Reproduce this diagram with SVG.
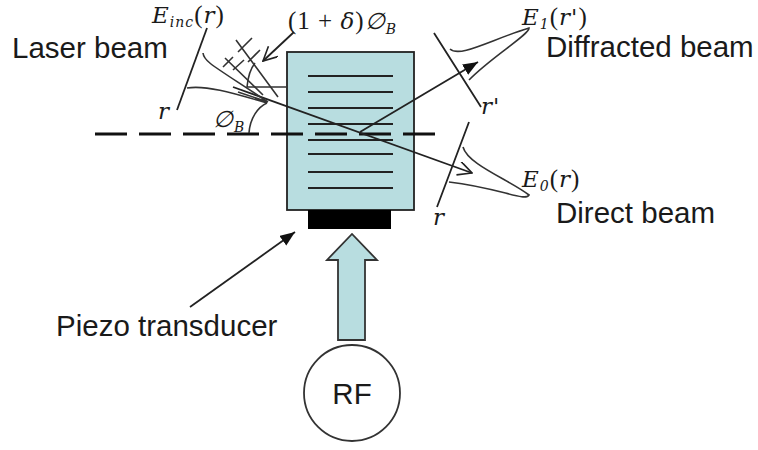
<svg xmlns="http://www.w3.org/2000/svg" width="758" height="450" viewBox="0 0 758 450">
<defs>
<marker id="tip" markerUnits="userSpaceOnUse" markerWidth="16" markerHeight="14" refX="15" refY="6" orient="auto"><path d="M0 0L15 6L0 12Z" fill="#111"/></marker>
<marker id="open" markerUnits="userSpaceOnUse" markerWidth="16" markerHeight="16" refX="15" refY="7" orient="auto"><path d="M1 0L15 7L1 14" fill="none" stroke="#222" stroke-width="1.6"/></marker>
</defs>
<style>
.l{fill:none;stroke:#222;stroke-width:1.8}
.g{fill:none;stroke:#333;stroke-width:1.6}
.t{font-family:"Liberation Sans",Arial,sans-serif;font-size:29.5px;fill:#1a1a1a}
.m{font-family:"DejaVu Serif","Liberation Serif",serif;font-style:italic;font-size:23px;letter-spacing:1px;fill:#1a1a1a}
.u{font-family:"Liberation Serif",serif;font-style:normal;font-size:25px}
.s{font-size:14px}
</style>
<rect width="758" height="450" fill="#fff"/>
<g id="cell">
<rect x="287" y="52" width="127" height="158" fill="#b8dde0" stroke="#222" stroke-width="1.8"/>
<path class="l" d="M308 76H393M308 92H393M308 108H393M308 124H393M308 140H393M308 154H393M308 172H393M308 188H393"/>
</g>
<g id="transducer"><rect x="308" y="210" width="83" height="19" fill="#000"/></g>
<g id="rf"><circle cx="352" cy="393" r="48" fill="#fff" stroke="#333" stroke-width="1.8"/><text class="t" x="352" y="404" text-anchor="middle">RF</text></g>
<g id="rf-arrow"><path d="M338 340V260H327L352 234L377 260H365V340Z" fill="#b8dde0" stroke="#333" stroke-width="1.8"/></g>
<g id="connectors">
<path d="M95 134H435" fill="none" stroke="#111" stroke-width="3.2" stroke-dasharray="32 12"/>
<path class="l" d="M233 87L472 173" marker-end="url(#open)"/>
<path class="l" d="M360 132L478 62" marker-end="url(#tip)"/>
<path class="l" d="M190 307L295 232" marker-end="url(#tip)"/>
<path class="l" d="M294 32L263 61" marker-end="url(#open)"/>
<path class="l" d="M207 28L177 110"/>
<path class="g" d="M203 53C204 62 214 66 268 102M187 88C205 85 230 92 267 103M238 92L268 102"/>
<path class="g" d="M247 87H287M247 87C248 76 251 68 255 63M249 133C250 118 258 107 267 103"/>
<path class="g" d="M236 40L278 97M225 58L263 95M252 38L238 52M260 50L248 62M233 57L223 67M244 60L233 70"/>
<path class="l" d="M434 33L481 107M469 122L437 207"/>
<path class="g" d="M450 49C460 58 490 40 529 28C530 34 490 58 469 80M463 147C468 165 510 180 529 195C525 202 500 188 449 182"/>
</g>
<g id="labels">
<text class="t" x="12" y="58">Laser beam</text>
<text class="t" x="546" y="57">Diffracted beam</text>
<text class="t" x="556" y="223">Direct beam</text>
<text class="t" x="56" y="336">Piezo transducer</text>
<text class="m" x="152" y="23">E<tspan class="s" dy="4">inc</tspan><tspan class="u" dy="-4">(</tspan>r<tspan class="u">)</tspan></text>
<text class="m" x="288" y="29"><tspan class="u">(1 + </tspan>δ<tspan class="u">)</tspan>∅<tspan class="s" dy="5">B</tspan></text>
<text class="m" x="158" y="119">r</text>
<text class="m" x="213" y="127">∅<tspan class="s" dy="5">B</tspan></text>
<text class="m" x="522" y="25">E<tspan class="s" dy="4">1</tspan><tspan class="u" dy="-4">(</tspan>r'<tspan class="u">)</tspan></text>
<text class="m" x="481" y="114">r'</text>
<text class="m" x="522" y="187">E<tspan class="s" dy="4">0</tspan><tspan class="u" dy="-4">(</tspan>r<tspan class="u">)</tspan></text>
<text class="m" x="433" y="225">r</text>
</g>
</svg>
